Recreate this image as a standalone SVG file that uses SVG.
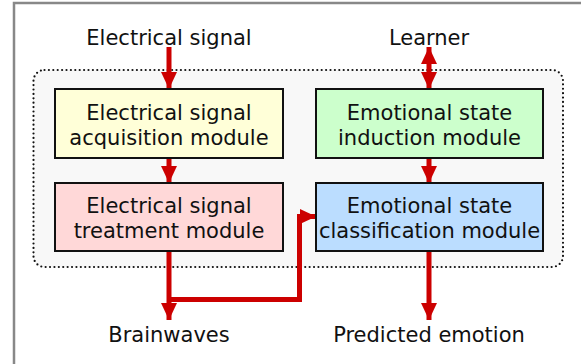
<svg xmlns="http://www.w3.org/2000/svg" width="581" height="364" viewBox="0 0 581 364">
<style>
text{font-family:"DejaVu Sans","Verdana",sans-serif;font-size:21px;fill:#111;text-anchor:middle}
.box{stroke:#111;stroke-width:2}
.wire{fill:none;stroke:#cc0000;stroke-width:5}
</style>
<defs>
<marker id="ah" markerUnits="userSpaceOnUse" markerWidth="17" markerHeight="17" viewBox="0 0 17 17" refX="17" refY="8.5" orient="auto-start-reverse">
<path d="M0,0.5 L17,8.5 L0,16.5 z" fill="#cc0000"/>
</marker>
<marker id="ahs" markerUnits="userSpaceOnUse" markerWidth="16" markerHeight="16" viewBox="0 0 16 16" refX="16" refY="8" orient="auto">
<path d="M0,0.5 L16,8 L0,15.5 z" fill="#cc0000"/>
</marker>
</defs>
<rect x="14" y="3" width="580" height="380" fill="#fff" stroke="#888" stroke-width="2.5"/>
<rect id="system" x="33.5" y="70" width="529.5" height="197" rx="11" fill="#f8f8f8" stroke="#111" stroke-width="2.2" stroke-dasharray="0 4.4" stroke-linecap="round"/>
<g id="connectors">
<line class="wire" x1="169" y1="47" x2="169" y2="89" marker-end="url(#ah)"/>
<line class="wire" x1="169" y1="158" x2="169" y2="183" marker-end="url(#ah)"/>
<line class="wire" x1="429" y1="47" x2="429" y2="89" marker-start="url(#ah)" marker-end="url(#ah)"/>
<line class="wire" x1="429" y1="158" x2="429" y2="183" marker-end="url(#ah)"/>
<line class="wire" x1="169" y1="251" x2="169" y2="320" marker-end="url(#ah)"/>
<path class="wire" d="M169,299.5 H299.5 V216.5 H316" marker-end="url(#ahs)"/>
<line class="wire" x1="429" y1="251" x2="429" y2="320" marker-end="url(#ah)"/>
</g>
<g id="acquisition">
<rect class="box" x="55" y="89" width="228" height="69" fill="#ffffd8"/>
<text x="169" y="120">Electrical signal</text>
<text x="169" y="145">acquisition module</text>
</g>
<g id="induction">
<rect class="box" x="316" y="89" width="227" height="69" fill="#ccffcc"/>
<text x="429.5" y="120">Emotional state</text>
<text x="429.5" y="145">induction module</text>
</g>
<g id="treatment">
<rect class="box" x="55" y="183" width="228" height="68" fill="#ffd8d8"/>
<text x="169" y="213">Electrical signal</text>
<text x="169" y="238">treatment module</text>
</g>
<g id="classification">
<rect class="box" x="316" y="183" width="227" height="68" fill="#bbddff"/>
<text x="429.5" y="213">Emotional state</text>
<text x="429.5" y="238">classification module</text>
</g>
<g id="labels">
<text x="169" y="45">Electrical signal</text>
<text x="429" y="45">Learner</text>
<text x="169" y="342">Brainwaves</text>
<text x="429" y="342">Predicted emotion</text>
</g>
</svg>
